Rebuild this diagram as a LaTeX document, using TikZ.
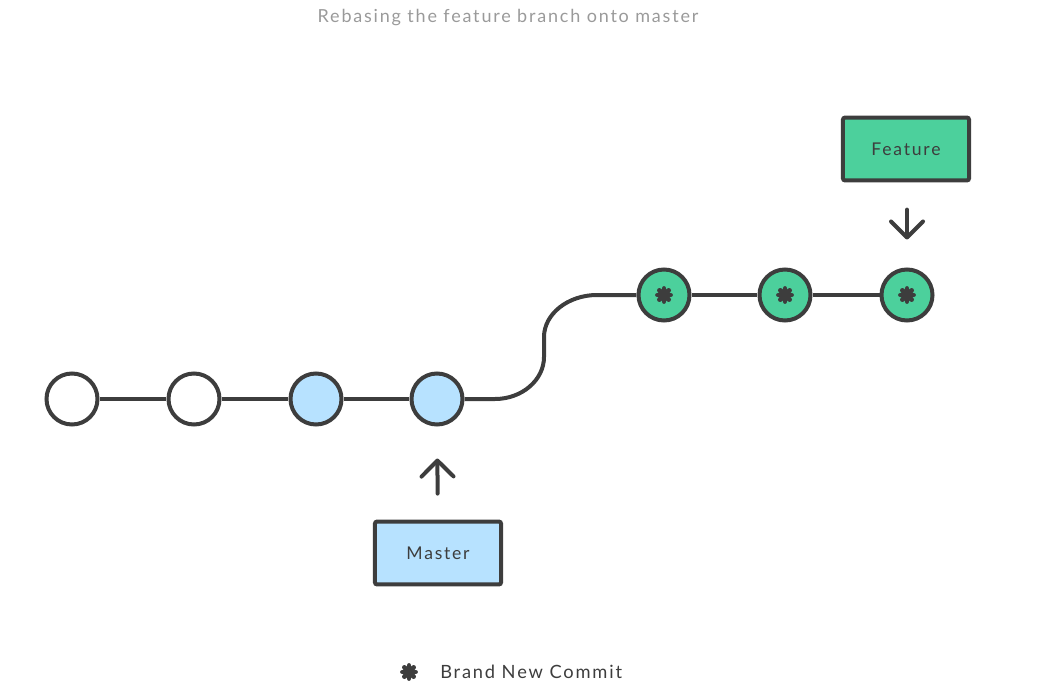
\documentclass[tikz,border=0pt]{standalone}
\usepackage{fontspec}
\setmainfont{Lato}[LetterSpace=10]
\usetikzlibrary{arrows.meta}

\definecolor{ink}{HTML}{3D3D3D}
\definecolor{masterblue}{HTML}{B7E2FF}
\definecolor{featuregreen}{HTML}{4CD09C}
\definecolor{titlegray}{HTML}{9A9A9A}

\tikzset{
  commit/.style={circle,draw=ink,line width=0.1cm,minimum size=1.275cm,inner sep=0pt,fill=white},
  branch/.style={draw=ink,line width=0.1cm},
  branchlabel/.style={draw=ink,line width=0.1cm,rounded corners=0.05cm,minimum width=3.15cm,minimum height=1.57cm,
    text=ink,font=\fontsize{12.5}{14}\selectfont},
  pointer/.style={draw=ink,line width=0.1cm,line cap=round,-{Straight Barb[round,length=0.4cm,width=0.8cm]}},
  starline/.style={draw=ink,line cap=round,line width=0.12cm}
}

\begin{document}
\begin{tikzpicture}[x=0.025cm,y=-0.025cm]

    \useasboundingbox (0,0) rectangle (1054,697);

    \node[font=\fontsize{12.8}{14}\selectfont,text=titlegray] (title) at (508,18) {Rebasing the feature branch onto master};

    \node[commit] (c1) at (72,399) {};
    \node[commit] (c2) at (194,399) {};
    \node[commit,fill=masterblue] (c3) at (316,399) {};
    \node[commit,fill=masterblue] (c4) at (437,399) {};

    \node[commit,fill=featuregreen] (c5) at (664,295) {};
    \node[commit,fill=featuregreen] (c6) at (785,295) {};
    \node[commit,fill=featuregreen] (c7) at (907,295) {};

    \coordinate (bendlow) at (495,399);
    \coordinate (bendhigh) at (597,295);

    \draw[branch] (c1) -- (c2);
    \draw[branch] (c2) -- (c3);
    \draw[branch] (c3) -- (c4);
    \draw[branch] (c4) -- (bendlow) .. controls (522,399) and (544,380) .. (544,357)
        -- (544,337) .. controls (544,314) and (568,295) .. (bendhigh) -- (c5);
    \draw[branch] (c5) -- (c6);
    \draw[branch] (c6) -- (c7);

    % brand new commits
    \foreach \c in {c5,c6,c7}
      \foreach \a in {0,45,90,135}
        \draw[starline] (\c.center) ++(\a:6.5) -- ++(\a+180:13);

    \node[branchlabel,fill=masterblue] (master) at (438,553) {Master};
    \node[branchlabel,fill=featuregreen] (feature) at (906,149) {Feature};

    \draw[pointer,shorten <=0.65cm,shorten >=0.8cm] (master) -- (c4);
    \draw[pointer,shorten <=0.68cm,shorten >=0.7cm] (feature.south -| c7) -- (c7);

    % legend
    \coordinate (legmark) at (409,672);
    \foreach \a in {0,45,90,135}
      \draw[starline] (legmark) ++(\a:6.5) -- ++(\a+180:13);
    \node[anchor=west,text=ink,font=\fontsize{13}{15}\selectfont,inner sep=0pt] (legtext) at (440,672) {Brand New Commit};

\end{tikzpicture}
\end{document}
